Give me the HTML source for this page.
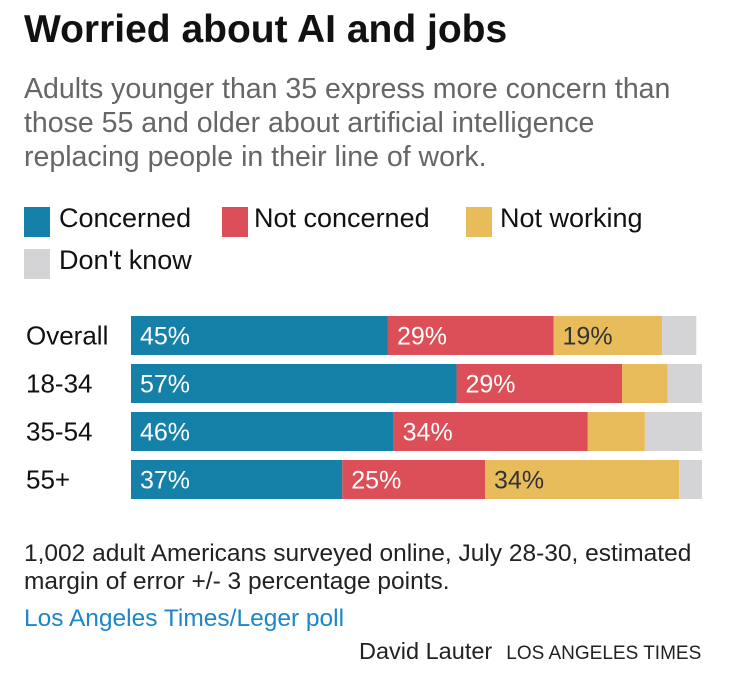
<!DOCTYPE html>
<html><head><meta charset="utf-8"><style>
body{margin:0;background:#fff;width:748px;height:686px;overflow:hidden;font-family:"Liberation Sans",sans-serif;position:relative}
.t{position:absolute;white-space:nowrap}
.lg{position:absolute;width:26px;height:30px}
.ll{font-size:27px;color:#111;top:0}
</style></head><body>
<div class="t" style="left:24px;top:8px;font-size:39px;font-weight:bold;color:#111">Worried about AI and jobs</div>
<div class="t" style="left:24px;top:72px;font-size:28.5px;line-height:34px;color:#666">Adults younger than 35 express more concern than<br>those 55 and older about artificial intelligence<br>replacing people in their line of work.</div>
<div>
<div class="lg" style="left:24px;top:207px;background:#1580a8"></div>
<div class="t" style="left:59px;top:203px;font-size:27px;color:#111">Concerned</div>
<div class="lg" style="left:222px;top:207px;background:#dc4e58"></div>
<div class="t" style="left:254px;top:203px;font-size:27px;color:#111">Not concerned</div>
<div class="lg" style="left:466px;top:207px;background:#e8bc5a"></div>
<div class="t" style="left:500px;top:203px;font-size:27px;color:#111">Not working</div>
<div class="lg" style="left:24px;top:249px;background:#d4d4d6"></div>
<div class="t" style="left:59px;top:245px;font-size:27px;color:#111">Don't know</div>
</div>
<svg id="chart" width="748" height="686" style="position:absolute;left:0;top:0"></svg>
<div class="t" style="left:24px;top:540px;font-size:24.5px;line-height:28px;color:#222">1,002 adult Americans surveyed online, July 28-30, estimated<br>margin of error +/- 3 percentage points.</div>
<div class="t" style="left:24px;top:605px;font-size:24.5px;color:#1b87c9">Los Angeles Times/Leger poll</div>
<div class="t" style="left:359px;top:638px;font-size:23.5px;color:#222">David Lauter<span style="font-size:19px;margin-left:14px">LOS ANGELES TIMES</span></div>
<script>
const categories=["Overall","18-34","35-54","55+"];
const concerned=[45,57,46,37];
const notConcerned=[29,29,34,25];
const notWorking=[19,8,10,34];
const dontKnow=[6,6,10,4];
const seriesNames=["concerned","not-concerned","not-working","dont-know"];
const series=[concerned,notConcerned,notWorking,dontKnow];
const colors=["#1580a8","#dc4e58","#e8bc5a","#d4d4d6"];
const labelColors=["#fff","#fff","#333",null];
const x0=131,pxPer=5.71,y0=316,pitch=48,bh=39;
const xs=v=>x0+v*pxPer;
const ys=i=>y0+i*pitch;
const svg=document.getElementById('chart');
const NS="http://www.w3.org/2000/svg";
categories.forEach((c,i)=>{
  const t=document.createElementNS(NS,'text');
  
  
  t.setAttribute('x',26);t.setAttribute('y',ys(i)+bh/2+9);
  t.setAttribute('font-size','26');t.setAttribute('fill','#111');
  t.setAttribute('font-family','Liberation Sans, sans-serif');
  t.textContent=c;svg.appendChild(t);
  let acc=0;
  series.forEach((s,k)=>{
    const v=s[i];
    const r=document.createElementNS(NS,'rect');
    
    
    r.setAttribute('x',xs(acc));r.setAttribute('y',ys(i));
    r.setAttribute('width',v*pxPer);r.setAttribute('height',bh);
    r.setAttribute('fill',colors[k]);svg.appendChild(r);
    if(labelColors[k]&&v>=15){
      const l=document.createElementNS(NS,'text');
      
      
      l.setAttribute('x',xs(acc)+9);l.setAttribute('y',ys(i)+bh/2+9);
      l.setAttribute('font-size','25');l.setAttribute('fill',labelColors[k]);
      l.setAttribute('font-family','Liberation Sans, sans-serif');
      l.textContent=v+'%';svg.appendChild(l);
    }
    acc+=v;
  });
});
</script>
</body></html>
